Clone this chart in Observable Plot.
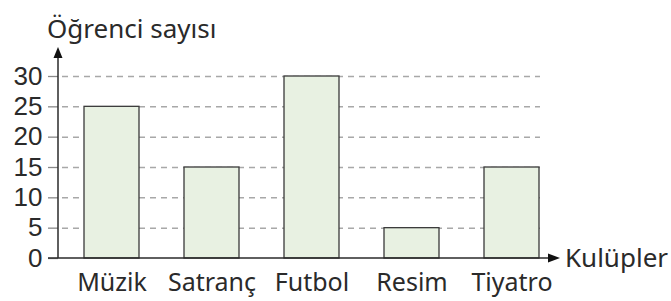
<!DOCTYPE html>
<html><head><meta charset="utf-8">
<script src="https://cdn.jsdelivr.net/npm/d3@7"></script>
<script src="https://cdn.jsdelivr.net/npm/@observablehq/plot@0.6"></script>
<style>html,body{margin:0;padding:0;background:#fff}</style>
</head><body><div id="chart"></div>
<script>
const categories = ["Müzik", "Satranç", "Futbol", "Resim", "Tiyatro"];
const values = [25, 15, 30, 5, 15];
const yTicks = [0, 5, 10, 15, 20, 25, 30];
const gridTicks = [5, 10, 15, 20, 25, 30];
const yTitle = "Öğrenci sayısı";
const xTitle = "Kulüpler";
const yArrowTop = 34.8;

const data = categories.map((c, i) => ({club: c, count: values[i]}));
const FONT = "'Noto Sans', sans-serif";
const TICKFONT = "'Liberation Sans', sans-serif";
const INK = "#2a2a2a";

function axesMark(index, scales, vals, dims) {
  const g = d3.create("svg:g").attr("text-anchor", "start");
  const x0 = dims.marginLeft;
  const y0 = scales.y(0);
  const yTop = scales.y(yArrowTop);
  const xEnd = dims.width - dims.marginRight - 5;
  // y axis
  g.append("line").attr("x1", x0).attr("x2", x0).attr("y1", y0).attr("y2", yTop + 8)
    .attr("stroke", INK).attr("stroke-width", 1.5);
  g.append("path").attr("d", `M${x0},${yTop}L${x0 - 4.5},${yTop + 11}L${x0 + 4.5},${yTop + 11}Z`).attr("fill", "#111");
  // x axis
  g.append("line").attr("x1", x0 - 10).attr("x2", xEnd - 8).attr("y1", y0).attr("y2", y0)
    .attr("stroke", INK).attr("stroke-width", 1.5);
  g.append("path").attr("d", `M${xEnd},${y0}L${xEnd - 12},${y0 - 4.5}L${xEnd - 12},${y0 + 4.5}Z`).attr("fill", "#111");
  // titles
  g.append("text").attr("x", x0 - 11).attr("y", yTop - 9).text(yTitle)
    .attr("text-anchor", "start")
    .attr("font-size", 26).attr("fill", INK).attr("font-family", FONT);
  g.append("text").attr("x", xEnd + 5).attr("y", y0 + 9).text(xTitle)
    .attr("text-anchor", "start")
    .attr("font-size", 26).attr("fill", INK).attr("font-family", FONT);
  return g.node();
}

const chart = Plot.plot({
  width: 671,
  height: 301,
  marginLeft: 58,
  marginRight: 106,
  marginTop: 76,
  marginBottom: 43,
  style: {fontFamily: FONT, background: "#fff", color: INK},
  x: {domain: categories, paddingInner: 0.45, paddingOuter: 0.26},
  y: {domain: [0, 30]},
  marks: [
    Plot.ruleY(gridTicks, {stroke: "#a8a8a8", strokeWidth: 1.5, strokeDasharray: "6,5", insetLeft: 4, insetRight: 25}),
    Plot.barY(data, {x: "club", y: "count", fill: "#e8f1e2", stroke: "#3a3a3a", strokeWidth: 1.3}),
    Plot.axisY(yTicks, {tickSize: 10, tickPadding: 6, fontSize: 26, fontFamily: TICKFONT, stroke: "#888", strokeWidth: 1.3, fill: INK, label: null}),
    Plot.axisX({tickSize: 0, tickPadding: 15, fontSize: 25, fill: INK, label: null}),
    axesMark
  ]
});
document.getElementById("chart").appendChild(chart);
</script>
</body></html>
